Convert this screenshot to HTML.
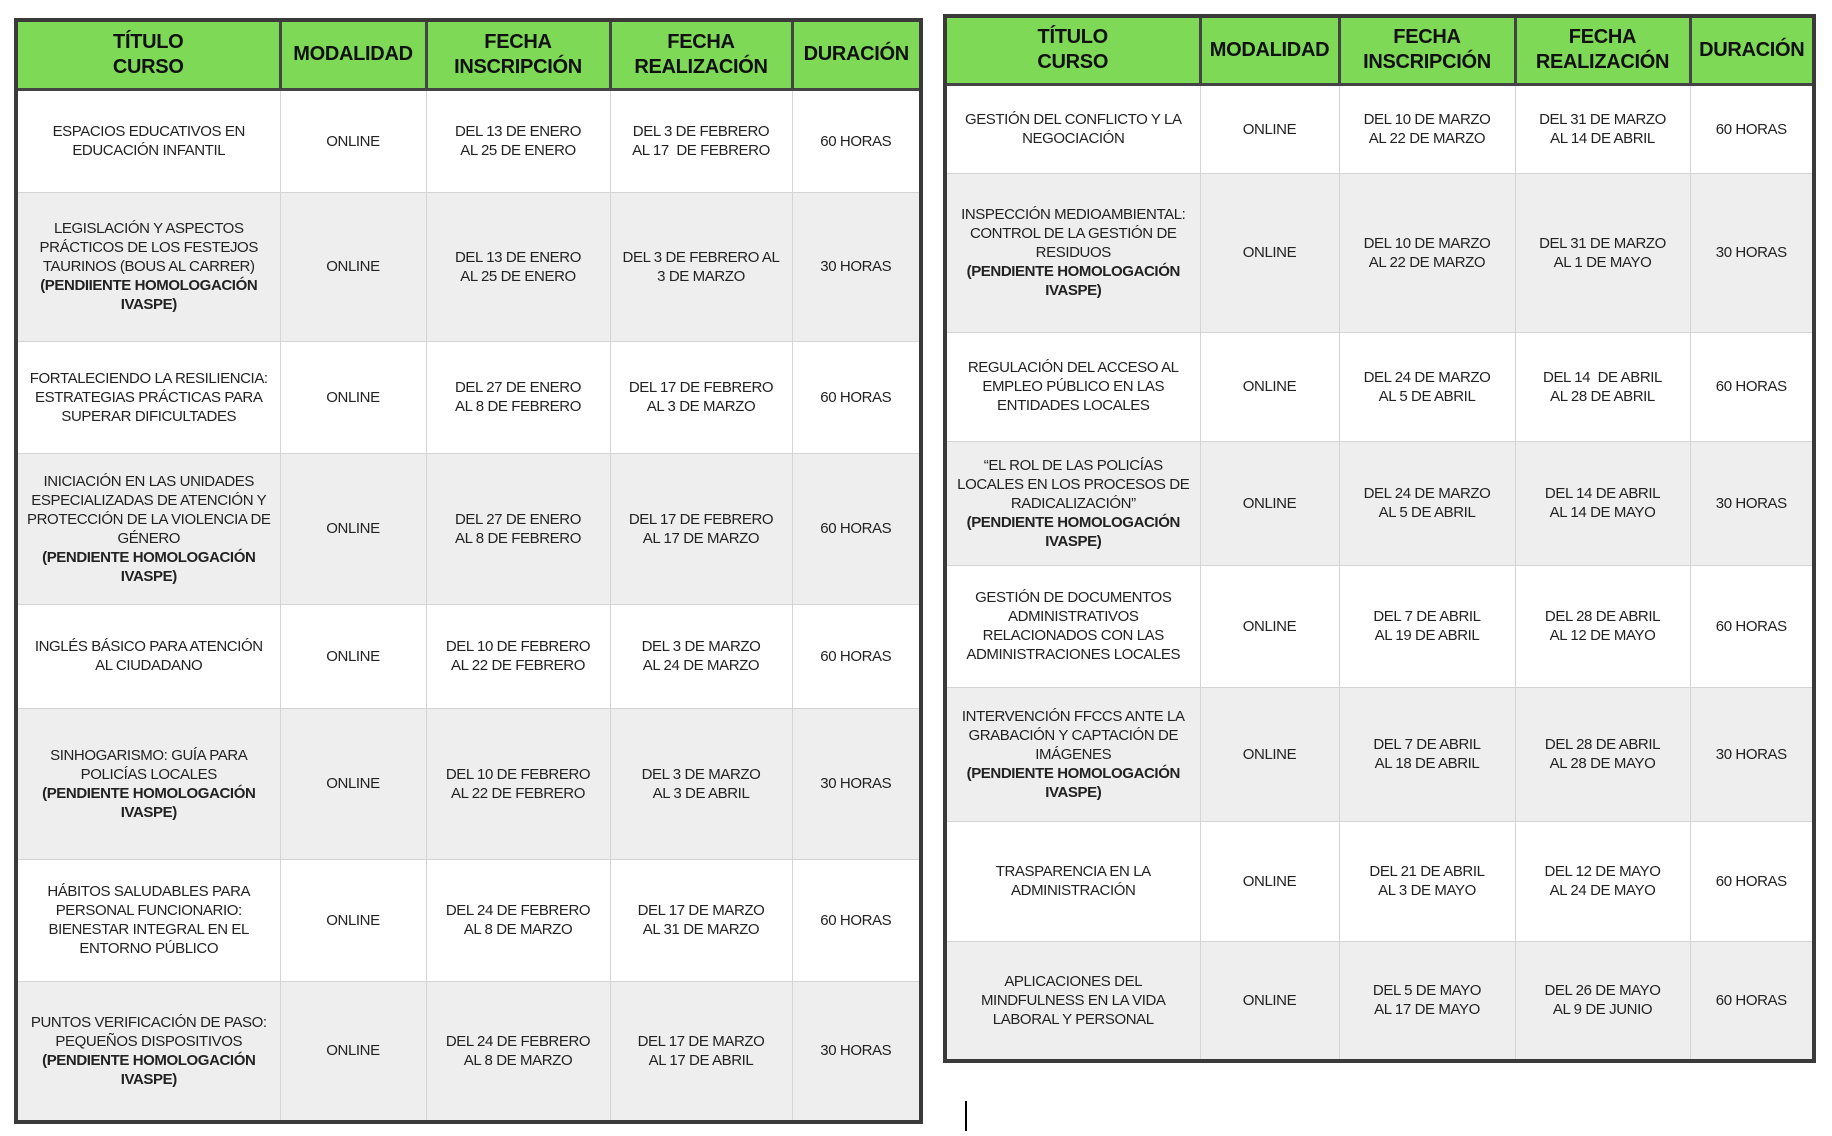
<!DOCTYPE html>
<html><head><meta charset="utf-8"><style>
body{margin:0;width:1832px;height:1136px;background:#fff;position:relative;overflow:hidden;font-family:"Liberation Sans",Arial,sans-serif;}
.t{position:absolute;border:4px solid #3a3a3a;box-sizing:border-box;}
table{border-collapse:collapse;table-layout:fixed;width:100%;height:100%;}
td{text-align:center;vertical-align:middle;color:#222;font-size:15px;line-height:19px;letter-spacing:-0.4px;border:1px solid #d4d4d4;padding:0 4px;}
tr.h td{background:#7ed957;border:3px solid #444;border-top:none;font-weight:bold;font-size:20px;line-height:25px;color:#111;letter-spacing:-0.3px;}
tr.h td:first-child{border-left:none}tr.h td:last-child{border-right:none}
tr.g td{background:#eeeeee}
td:first-child{border-left:none}td:last-child{border-right:none}
tr:last-child td{border-bottom:none}
b{font-weight:bold}
</style></head><body>
<div class="t" style="left:14px;top:18px;width:909px;height:1106px;">
<table>
<colgroup><col style="width:262px"><col style="width:146px"><col style="width:184px"><col style="width:182px"><col style="width:127px"></colgroup>
<tr class="h" style="height:67px"><td>TÍTULO<br>CURSO</td><td>MODALIDAD</td><td>FECHA<br>INSCRIPCIÓN</td><td>FECHA<br>REALIZACIÓN</td><td>DURACIÓN</td></tr>
<tr style="height:103px"><td>ESPACIOS EDUCATIVOS EN<br>EDUCACIÓN INFANTIL</td><td>ONLINE</td><td>DEL 13 DE ENERO<br>AL 25 DE ENERO</td><td>DEL 3 DE FEBRERO<br>AL 17 &nbsp;DE FEBRERO</td><td>60 HORAS</td></tr>
<tr class="g" style="height:149px"><td>LEGISLACIÓN Y ASPECTOS PRÁCTICOS DE LOS FESTEJOS TAURINOS (BOUS AL CARRER)<br><b>(PENDIIENTE HOMOLOGACIÓN IVASPE)</b></td><td>ONLINE</td><td>DEL 13 DE ENERO<br>AL 25 DE ENERO</td><td>DEL 3 DE FEBRERO AL<br>3 DE MARZO</td><td>30 HORAS</td></tr>
<tr style="height:112px"><td>FORTALECIENDO LA RESILIENCIA: ESTRATEGIAS PRÁCTICAS PARA SUPERAR DIFICULTADES</td><td>ONLINE</td><td>DEL 27 DE ENERO<br>AL 8 DE FEBRERO</td><td>DEL 17 DE FEBRERO<br>AL 3 DE MARZO</td><td>60 HORAS</td></tr>
<tr class="g" style="height:151px"><td>INICIACIÓN EN LAS UNIDADES ESPECIALIZADAS DE ATENCIÓN Y PROTECCIÓN DE LA VIOLENCIA DE GÉNERO<br><b>(PENDIENTE HOMOLOGACIÓN IVASPE)</b></td><td>ONLINE</td><td>DEL 27 DE ENERO<br>AL 8 DE FEBRERO</td><td>DEL 17 DE FEBRERO<br>AL 17 DE MARZO</td><td>60 HORAS</td></tr>
<tr style="height:104px"><td>INGLÉS BÁSICO PARA ATENCIÓN<br>AL CIUDADANO</td><td>ONLINE</td><td>DEL 10 DE FEBRERO<br>AL 22 DE FEBRERO</td><td>DEL 3 DE MARZO<br>AL 24 DE MARZO</td><td>60 HORAS</td></tr>
<tr class="g" style="height:151px"><td>SINHOGARISMO: GUÍA PARA POLICÍAS LOCALES<br><b>(PENDIENTE HOMOLOGACIÓN IVASPE)</b></td><td>ONLINE</td><td>DEL 10 DE FEBRERO<br>AL 22 DE FEBRERO</td><td>DEL 3 DE MARZO<br>AL 3 DE ABRIL</td><td>30 HORAS</td></tr>
<tr style="height:122px"><td>HÁBITOS SALUDABLES PARA PERSONAL FUNCIONARIO: BIENESTAR INTEGRAL EN EL ENTORNO PÚBLICO</td><td>ONLINE</td><td>DEL 24 DE FEBRERO<br>AL 8 DE MARZO</td><td>DEL 17 DE MARZO<br>AL 31 DE MARZO</td><td>60 HORAS</td></tr>
<tr class="g" style="height:139px"><td>PUNTOS VERIFICACIÓN DE PASO: PEQUEÑOS DISPOSITIVOS<br><b>(PENDIENTE HOMOLOGACIÓN IVASPE)</b></td><td>ONLINE</td><td>DEL 24 DE FEBRERO<br>AL 8 DE MARZO</td><td>DEL 17 DE MARZO<br>AL 17 DE ABRIL</td><td>30 HORAS</td></tr>
</table></div>

<div class="t" style="left:943px;top:14px;width:873px;height:1049px;">
<table>
<colgroup><col style="width:253px"><col style="width:139px"><col style="width:176px"><col style="width:175px"><col style="width:122px"></colgroup>
<tr class="h" style="height:66px"><td>TÍTULO<br>CURSO</td><td>MODALIDAD</td><td>FECHA<br>INSCRIPCIÓN</td><td>FECHA<br>REALIZACIÓN</td><td>DURACIÓN</td></tr>
<tr style="height:89px"><td>GESTIÓN DEL CONFLICTO Y LA NEGOCIACIÓN</td><td>ONLINE</td><td>DEL 10 DE MARZO<br>AL 22 DE MARZO</td><td>DEL 31 DE MARZO<br>AL 14 DE ABRIL</td><td>60 HORAS</td></tr>
<tr class="g" style="height:159px"><td>INSPECCIÓN MEDIOAMBIENTAL: CONTROL DE LA GESTIÓN DE RESIDUOS<br><b>(PENDIENTE HOMOLOGACIÓN IVASPE)</b></td><td>ONLINE</td><td>DEL 10 DE MARZO<br>AL 22 DE MARZO</td><td>DEL 31 DE MARZO<br>AL 1 DE MAYO</td><td>30 HORAS</td></tr>
<tr style="height:109px"><td>REGULACIÓN DEL ACCESO AL EMPLEO PÚBLICO EN LAS ENTIDADES LOCALES</td><td>ONLINE</td><td>DEL 24 DE MARZO<br>AL 5 DE ABRIL</td><td>DEL 14 &nbsp;DE ABRIL<br>AL 28 DE ABRIL</td><td>60 HORAS</td></tr>
<tr class="g" style="height:124px"><td>“EL ROL DE LAS POLICÍAS LOCALES EN LOS PROCESOS DE RADICALIZACIÓN”<br><b>(PENDIENTE HOMOLOGACIÓN IVASPE)</b></td><td>ONLINE</td><td>DEL 24 DE MARZO<br>AL 5 DE ABRIL</td><td>DEL 14 DE ABRIL<br>AL 14 DE MAYO</td><td>30 HORAS</td></tr>
<tr style="height:122px"><td>GESTIÓN DE DOCUMENTOS ADMINISTRATIVOS RELACIONADOS CON LAS ADMINISTRACIONES LOCALES</td><td>ONLINE</td><td>DEL 7 DE ABRIL<br>AL 19 DE ABRIL</td><td>DEL 28 DE ABRIL<br>AL 12 DE MAYO</td><td>60 HORAS</td></tr>
<tr class="g" style="height:134px"><td>INTERVENCIÓN FFCCS ANTE LA GRABACIÓN Y CAPTACIÓN DE IMÁGENES<br><b>(PENDIENTE HOMOLOGACIÓN IVASPE)</b></td><td>ONLINE</td><td>DEL 7 DE ABRIL<br>AL 18 DE ABRIL</td><td>DEL 28 DE ABRIL<br>AL 28 DE MAYO</td><td>30 HORAS</td></tr>
<tr style="height:120px"><td>TRASPARENCIA EN LA<br>ADMINISTRACIÓN</td><td>ONLINE</td><td>DEL 21 DE ABRIL<br>AL 3 DE MAYO</td><td>DEL 12 DE MAYO<br>AL 24 DE MAYO</td><td>60 HORAS</td></tr>
<tr class="g" style="height:118px"><td>APLICACIONES DEL<br>MINDFULNESS EN LA VIDA<br>LABORAL Y PERSONAL</td><td>ONLINE</td><td>DEL 5 DE MAYO<br>AL 17 DE MAYO</td><td>DEL 26 DE MAYO<br>AL 9 DE JUNIO</td><td>60 HORAS</td></tr>
</table></div>
<div style="position:absolute;left:965px;top:1101px;width:2px;height:30px;background:#000"></div>
</body></html>
